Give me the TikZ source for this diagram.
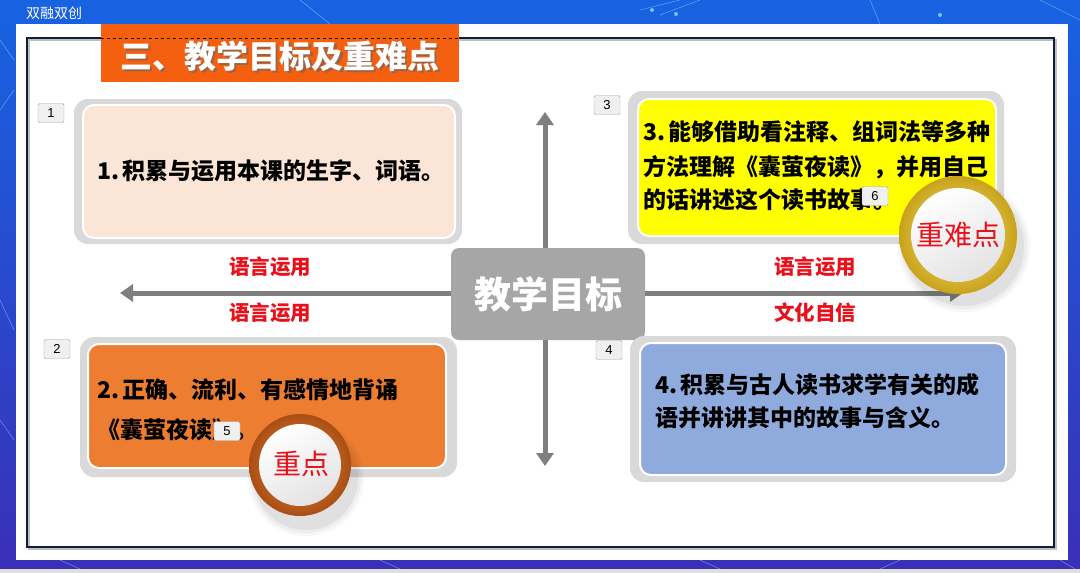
\documentclass[tikz,border=0pt]{standalone}
\usepackage{fontspec}
\setmainfont{Liberation Sans}
\newfontfamily\cjk{Noto Sans CJK SC}
\usetikzlibrary{arrows.meta}
\definecolor{bgtop}{HTML}{1763E2}
\definecolor{bgbot}{HTML}{3A2FB6}
\definecolor{peach}{HTML}{FBE5D6}
\definecolor{yel}{HTML}{FFFF00}
\definecolor{org}{HTML}{ED7D31}
\definecolor{blu}{HTML}{8FAADC}
\definecolor{ringgray}{HTML}{D9D9D9}
\definecolor{arrowgray}{HTML}{7F7F7F}
\definecolor{centergray}{HTML}{A6A6A6}
\definecolor{titleorange}{HTML}{F4600F}
\definecolor{redtxt}{HTML}{E8101A}
\definecolor{framecol}{HTML}{0F1E3C}
\definecolor{goldin}{HTML}{F6EE78}
\definecolor{goldout}{HTML}{C9A21C}
\definecolor{orgin}{HTML}{F0883A}
\definecolor{orgout}{HTML}{A94E14}
\begin{document}
\begin{tikzpicture}[x=1pt,y=-1pt,
  outerbox/.style={fill=ringgray, draw=none, rounded corners=14pt, inner sep=0pt},
  innerbox/.style={draw=white, line width=2pt, rounded corners=11pt, inner sep=0pt},
  numbox/.style={draw=gray!70, fill=gray!12, rounded corners=1.5pt, minimum width=26pt, minimum height=19pt, inner sep=0pt, font=\fontsize{13}{13}\selectfont},
  bodytxt/.style={anchor=west, inner sep=0pt, font=\cjk\bfseries\fontsize{23}{23}\selectfont},
  redlab/.style={text=redtxt, inner sep=0pt, font=\cjk\bfseries\fontsize{20.5}{20.5}\selectfont},
  arr/.style={draw=arrowgray, line width=5pt, -{Triangle[width=17pt,length=13pt]}},
  badgetxt/.style={text=redtxt, inner sep=0pt, font=\cjk\fontsize{28}{28}\selectfont},
  bgline/.style={draw=cyan!40, line width=0.6pt, opacity=0.5},
]
\useasboundingbox (0,0) rectangle (1080,573);
% background
\shade[top color=bgtop, bottom color=bgbot] (0,0) rectangle (1080,573);
\fill[gray!25] (0,569) rectangle (1080,573);
\draw[bgline] (0,40) -- (14,60) (0,110) -- (14,90) (0,300) -- (14,330) (0,420) -- (14,440);
\draw[bgline] (300,0) -- (330,24) (640,10) -- (680,0) (660,15) -- (700,0) (870,0) -- (880,24) (1040,0) -- (1080,20);
\draw[bgline] (60,560) -- (80,569) (380,560) -- (400,569) (700,560) -- (720,569) (900,560) -- (880,569) (1060,560) -- (1075,569);
\fill[cyan!60] (652,10) circle (2) (676,14) circle (2) (940,15) circle (2);
\node[text=white, inner sep=0pt, anchor=west, font=\cjk\fontsize{14}{14}\selectfont] (brand) at (26,13) {双融双创};
% white panel
\fill[white] (16,24) rectangle (1068,560);
% frame
\draw[gray!50, line width=1.5pt] (29,40) rectangle (1056,549);
\draw[framecol, line width=1.5pt] (27,38) rectangle (1054,547);
% title
\node[fill=titleorange, minimum width=358, minimum height=58, inner sep=0pt] (title) at (280,53) {};
\draw[black, dashed, line width=0.6pt] (title.west |- 0,38) -- (title.east |- 0,38);
\node[text=black!60, opacity=0.6, inner sep=0pt, font=\cjk\bfseries\fontsize{32}{32}\selectfont] at (282,58) {三、教学目标及重难点};
\node[text=white, inner sep=0pt, font=\cjk\bfseries\fontsize{32}{32}\selectfont] (titletxt) at (280,56) {三、教学目标及重难点};
% center node
\node[fill=centergray, rounded corners=8pt, minimum width=194, minimum height=92, inner sep=0pt, text=white, font=\cjk\bfseries\fontsize{37}{37}\selectfont] (ctr) at (548,294) {教学目标};
\coordinate (tipU) at (545,112);
\coordinate (tipD) at (545,466);
\coordinate (tipL) at (120,293);
\coordinate (tipR) at (963,293);
\draw[arr] (ctr.north -| tipU) -- (tipU);
\draw[arr] (ctr.south -| tipD) -- (tipD);
\draw[arr] (ctr.west |- tipL) -- (tipL);
\draw[arr] (ctr.east |- tipR) -- (tipR);
% red labels
\node[redlab] (l1) at (270,267) {语言运用};
\node[redlab] (l2) at (270,313) {语言运用};
\node[redlab] (l3) at (815,267) {语言运用};
\node[redlab] (l4) at (815,313) {文化自信};
% box 1
\node[outerbox, minimum width=388, minimum height=145] (o1) at (268,171.5) {};
\node[innerbox, fill=peach, minimum width=372, minimum height=133] (b1) at (269,171.5) {};
\node[bodytxt] (t1) at (97,171) {1.\hspace{3pt}积累与运用本课的生字、词语。};
\node[numbox] (n1) at (51,113) {1};
% box 3
\node[outerbox, minimum width=376, minimum height=153] (o3) at (816,167.5) {};
\node[innerbox, fill=yel, minimum width=358, minimum height=137] (b3) at (817,167.5) {};
\node[bodytxt] (t3a) at (643,132) {3.\hspace{3pt}能够借助看注释、组词法等多种};
\node[bodytxt] (t3b) at (643,167) {方法理解《囊萤夜读》，并用自己};
\node[bodytxt] (t3c) at (643,200) {的话讲述这个读书故事。};
\node[numbox] (n3) at (607,105) {3};
\node[numbox] (n6) at (875,196) {6};
% box 2
\node[outerbox, minimum width=377, minimum height=140] (o2) at (268.5,407) {};
\node[innerbox, fill=org, minimum width=358, minimum height=124] (b2) at (267,406) {};
\node[bodytxt] (t2a) at (97,390) {2.\hspace{3pt}正确、流利、有感情地背诵};
\node[bodytxt] (t2b) at (97,430) {《囊萤夜读》。};
\node[numbox] (n2) at (57,349) {2};
\node[numbox] (n5) at (227,431) {5};
% box 4
\node[outerbox, minimum width=386, minimum height=146] (o4) at (823,409) {};
\node[innerbox, fill=blu, minimum width=366, minimum height=132] (b4) at (823,409) {};
\node[bodytxt] (t4a) at (655,385) {4.\hspace{3pt}积累与古人读书求学有关的成};
\node[bodytxt] (t4b) at (655,418) {语并讲讲其中的故事与含义。};
\node[numbox] (n4) at (609,350) {4};
% badge 重难点
\foreach \r/\o in {66/0.03,63/0.04,60/0.05}{\fill[black, opacity=\o] (964,246) circle (\r);}
\shade[inner color=goldin, outer color=goldout] (958,235) circle (59);
\shade[top color=white, bottom color=gray!22, shading angle=30] (958,235) circle (47);
\node[badgetxt] (bd1) at (958,235) {重难点};
% badge 重点
\foreach \r/\o in {58/0.03,55/0.04,52/0.05}{\fill[black, opacity=\o] (306,478) circle (\r);}
\shade[inner color=orgin, outer color=orgout] (300,465) circle (51);
\shade[top color=white, bottom color=gray!22, shading angle=30] (300,465) circle (41);
\node[badgetxt] (bd2) at (301,464) {重点};
\end{tikzpicture}
\end{document}
